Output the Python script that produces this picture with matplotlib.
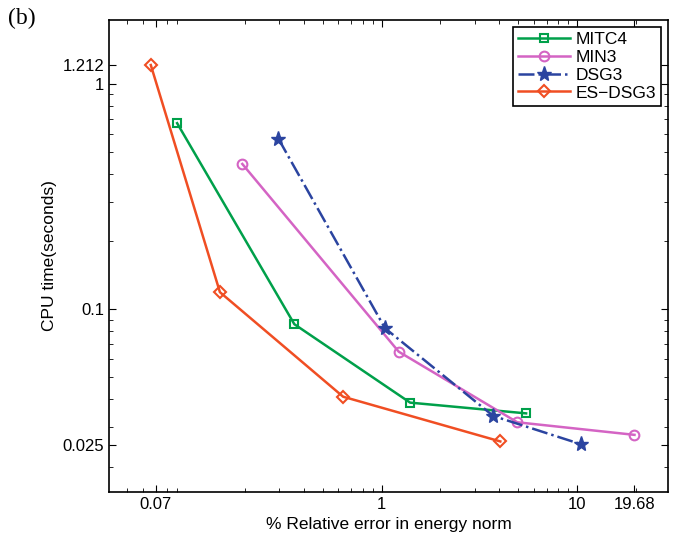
import matplotlib
matplotlib.use('Agg')
import matplotlib.pyplot as plt
from matplotlib.ticker import NullFormatter, LogLocator

# data (log-log)
mitc4_x = [0.090, 0.358, 1.40, 5.49]
mitc4_y = [0.669, 0.0858, 0.0385, 0.0345]
min3_x = [0.194, 1.224, 4.95, 19.68]
min3_y = [0.441, 0.0648, 0.0315, 0.0277]
dsg3_x = [0.297, 1.042, 3.73, 10.44]
dsg3_y = [0.570, 0.0823, 0.0336, 0.0252]
esdsg3_x = [0.066, 0.149, 0.636, 4.05]
esdsg3_y = [1.212, 0.119, 0.0409, 0.0259]

xtick_vals = [0.07, 1, 10, 19.68]
xtick_labels = ['0.07', '1', '10', '19.68']
ytick_vals = [0.025, 0.1, 1, 1.212]
ytick_labels = ['0.025', '0.1', '1', '1.212']

plt.rcParams['font.family'] = ['Liberation Sans', 'DejaVu Sans']


def graph():
    fig = plt.figure(figsize=(6.77, 5.43), dpi=100)
    ax = fig.add_axes([0.1615, 0.0945, 0.8252, 0.8687])
    ax.set_xscale('log')
    ax.set_yscale('log')

    ax.plot(mitc4_x, mitc4_y, '-s', color='#00a04a', lw=1.8, ms=6,
            mfc='none', mew=1.5, label='MITC4')
    ax.plot(min3_x, min3_y, '-o', color='#d464c4', lw=1.8, ms=7,
            mfc='none', mew=1.5, label='MIN3')
    ax.plot(dsg3_x, dsg3_y, '-.*', color='#2b44a0', lw=1.8, ms=11,
            label='DSG3')
    ax.plot(esdsg3_x, esdsg3_y, '-D', color='#f04e23', lw=1.8, ms=6,
            mfc='none', mew=1.5, label='ES\u2212DSG3')

    ax.set_xlim(0.0405, 29.2)
    ax.set_ylim(0.0155, 1.92)

    ax.set_xticks(xtick_vals)
    ax.set_xticklabels(xtick_labels)
    ax.set_yticks(ytick_vals)
    ax.set_yticklabels(ytick_labels)
    ax.xaxis.set_minor_locator(LogLocator(base=10, subs=range(2, 10)))
    ax.yaxis.set_minor_locator(LogLocator(base=10, subs=range(2, 10)))
    ax.xaxis.set_minor_formatter(NullFormatter())
    ax.yaxis.set_minor_formatter(NullFormatter())
    ax.tick_params(which='both', direction='in', top=True, right=True,
                   labelsize=12)
    ax.tick_params(which='major', length=5)
    ax.tick_params(which='minor', length=3)
    for s in ax.spines.values():
        s.set_linewidth(1.2)

    ax.set_xlabel('% Relative error in energy norm', fontsize=12.5)
    ax.set_ylabel('CPU time(seconds)', fontsize=12.5)

    leg = ax.legend(loc='upper right', fontsize=12.5, fancybox=False,
                    framealpha=1, edgecolor='black', borderpad=0.3,
                    labelspacing=0.15, handlelength=3.0, handletextpad=0.3,
                    borderaxespad=0.4)
    leg.get_frame().set_linewidth(1.2)

    fig.text(0.012, 0.955, '(b)', fontsize=17, family='Liberation Serif')

    plt.savefig('out.png', format='png')


def main():
    graph()


if __name__ == "__main__":
    main()
